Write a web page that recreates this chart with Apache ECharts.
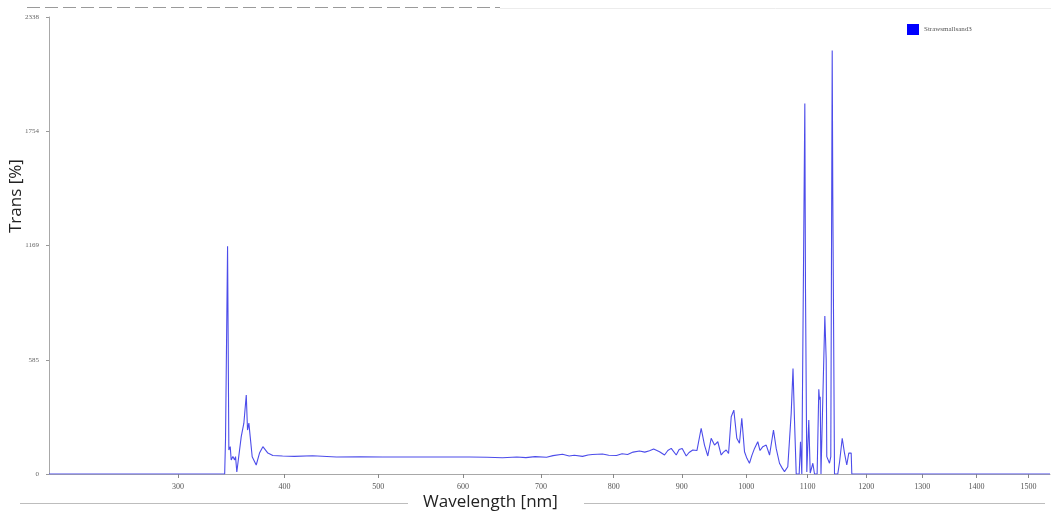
<!DOCTYPE html>
<html>
<head>
<meta charset="utf-8">
<title>Trans spectrum</title>
<script src="https://cdn.jsdelivr.net/npm/echarts@6/dist/echarts.min.js"></script>
<style>
  html, body { margin: 0; padding: 0; background: #fff; }
  #chart { width: 1051px; height: 515px; }
</style>
</head>
<body>
<div id="chart"></div>
<script>
// wavelength [nm] and transmission
var waveLengths = [
  198, 342, 342.8, 344, 344.7, 345.9, 347.2, 348.1, 349.7, 351.3, 352.2, 353.4,
  357.6, 360.1, 362.4, 363.6, 364.9, 366.2, 368.1, 372, 375.2, 378.5, 383.4, 388.3,
  398, 410, 428.7, 454, 480, 504.8, 550, 608, 630, 649.6, 668, 680, 692, 707.3,
  716, 728.8, 738, 745, 756.3, 764, 770, 784.2, 793, 804.1, 812, 820, 828, 837.2,
  845, 851.9, 858, 866.7, 874.1, 879, 884.1, 891.6, 896, 900.6, 906.7, 911, 916.7,
  923, 929.5, 934.6, 939.7, 944.9, 950.1, 955.2, 960.5, 964, 968.3, 972,
  976.2, 980.3, 985, 989.2, 992.9, 997.2, 1001, 1005.1, 1009, 1013.2, 1018.4, 1022,
  1026.5, 1032, 1037.4, 1043.8, 1048.2, 1053.6, 1058, 1061.8, 1067.2, 1072.8, 1075.8,
  1078, 1081.1, 1086, 1088.2, 1090.4, 1093, 1095.4, 1096.5, 1098.7, 1102, 1104.4,
  1108.8, 1111.6, 1116, 1118.8, 1120, 1121.2, 1122.5, 1125.5, 1129, 1131.3, 1132.3,
  1136.9, 1139.1, 1141.5, 1142.5, 1145.4, 1151, 1154, 1158.6, 1162.5, 1166.4, 1169.9,
  1174, 1175.1, 1542
];
var transValues = [
  0, 0, 180, 170, 1165, 123, 140, 72, 89, 72, 89, 10,
  191, 260, 404, 225, 260, 190, 88, 46, 107, 140, 107, 95,
  92, 90, 93, 87, 88, 87, 87, 87, 86, 83, 87, 84, 89, 86,
  94, 101, 92, 96, 90, 97, 100, 102, 96, 95, 104, 100, 112, 118,
  112, 119, 128, 114, 97, 120, 131, 97,
  125, 131, 92, 110, 123,
  120, 234, 148, 92, 183, 148, 165, 97, 112, 123, 105,
  293, 327, 183, 157, 285, 114, 80, 55, 95, 131, 165, 120,
  140, 148, 97, 225, 131, 55, 30, 12, 37, 310, 540,
  300, 0, 0, 165, 0, 0, 1896, 950, 10, 276, 5,
  55, 0, 0, 433, 380, 395, 0, 0, 808, 583, 89,
  55, 89, 2166, 1419, 0, 0, 60, 183, 107, 46, 107,
  107, 0, 0
];
var xTicks = [300, 400, 500, 600, 700, 800, 900, 1000, 1100, 1200, 1300, 1400, 1500];
var yMax = 2338;
var seriesName = 'Strawsmallsand3';

// the wavelength axis of the original is a square-root scale
function toAxis(v) { return Math.sqrt(v); }

var lineData = waveLengths.map(function(w, i) {
    return [toAxis(w), transValues[i]];
});

var chart = echarts.init(document.getElementById('chart'));
var option = {
    animation: false,
    backgroundColor: '#fff',
    grid: {
        left: 49,
        right: 1,
        top: 17,
        bottom: 41
    },
    legend: {
        left: 902,
        top: 19,
        icon: 'rect',
        itemWidth: 12,
        itemHeight: 11,
        itemGap: 2,
        data: [seriesName],
        textStyle: {
            fontSize: 7,
            color: '#555',
            fontFamily: 'Liberation Serif'
        }
    },
    xAxis: {
        type: 'value',
        min: toAxis(198),
        max: toAxis(1542),
        splitLine: { show: false },
        axisLine: { onZero: false, lineStyle: { color: '#a8a8a8', width: 1 } },
        axisTick: {
            show: true,
            length: 4,
            customValues: xTicks.map(toAxis),
            lineStyle: { color: '#888' }
        },
        axisLabel: {
            customValues: xTicks.map(toAxis),
            margin: 9,
            fontSize: 8,
            color: '#555',
            fontFamily: 'Liberation Serif',
            formatter: function(v) { return Math.round(v * v); }
        }
    },
    yAxis: {
        type: 'value',
        min: 0,
        max: yMax,
        interval: yMax / 4,
        splitLine: { show: false },
        axisLine: { show: true, lineStyle: { color: '#a8a8a8', width: 1 } },
        axisTick: { show: true, length: 3, lineStyle: { color: '#999' } },
        axisLabel: {
            margin: 10,
            fontSize: 7,
            color: '#666',
            fontFamily: 'Liberation Serif',
            formatter: function(v) { return Math.round(v); }
        }
    },
    series: [{
        name: seriesName,
        type: 'line',
        data: lineData,
        showSymbol: false,
        itemStyle: { color: '#0000ff' },
        lineStyle: { color: '#4c4cea', width: 1.1 }
    }],
    graphic: [
        {
            type: 'line', silent: true,
            shape: { x1: 27, y1: 7.5, x2: 500, y2: 7.5 },
            style: { stroke: '#9a9a9a', lineWidth: 1, lineDash: [13, 5] }
        },
        {
            type: 'line', silent: true,
            shape: { x1: 500, y1: 8.5, x2: 1051, y2: 8.5 },
            style: { stroke: '#ececec', lineWidth: 1 }
        },
        {
            type: 'line', silent: true,
            shape: { x1: 20, y1: 503.5, x2: 408, y2: 503.5 },
            style: { stroke: '#bdbdbd', lineWidth: 1 }
        },
        {
            type: 'line', silent: true,
            shape: { x1: 584, y1: 503.5, x2: 1045, y2: 503.5 },
            style: { stroke: '#bdbdbd', lineWidth: 1 }
        },
        {
            type: 'text', silent: true,
            left: 423, top: 494,
            style: {
                text: 'Wavelength [nm]',
                fontSize: 17,
                fontFamily: 'Open Sans',
                fill: '#222'
            }
        },
        {
            type: 'text', silent: true,
            x: 8, y: 233,
            rotation: Math.PI / 2,
            style: {
                text: 'Trans [%]',
                fontSize: 17,
                fontFamily: 'Open Sans',
                fill: '#222'
            }
        }
    ]
};
chart.setOption(option);
</script>
</body>
</html>
